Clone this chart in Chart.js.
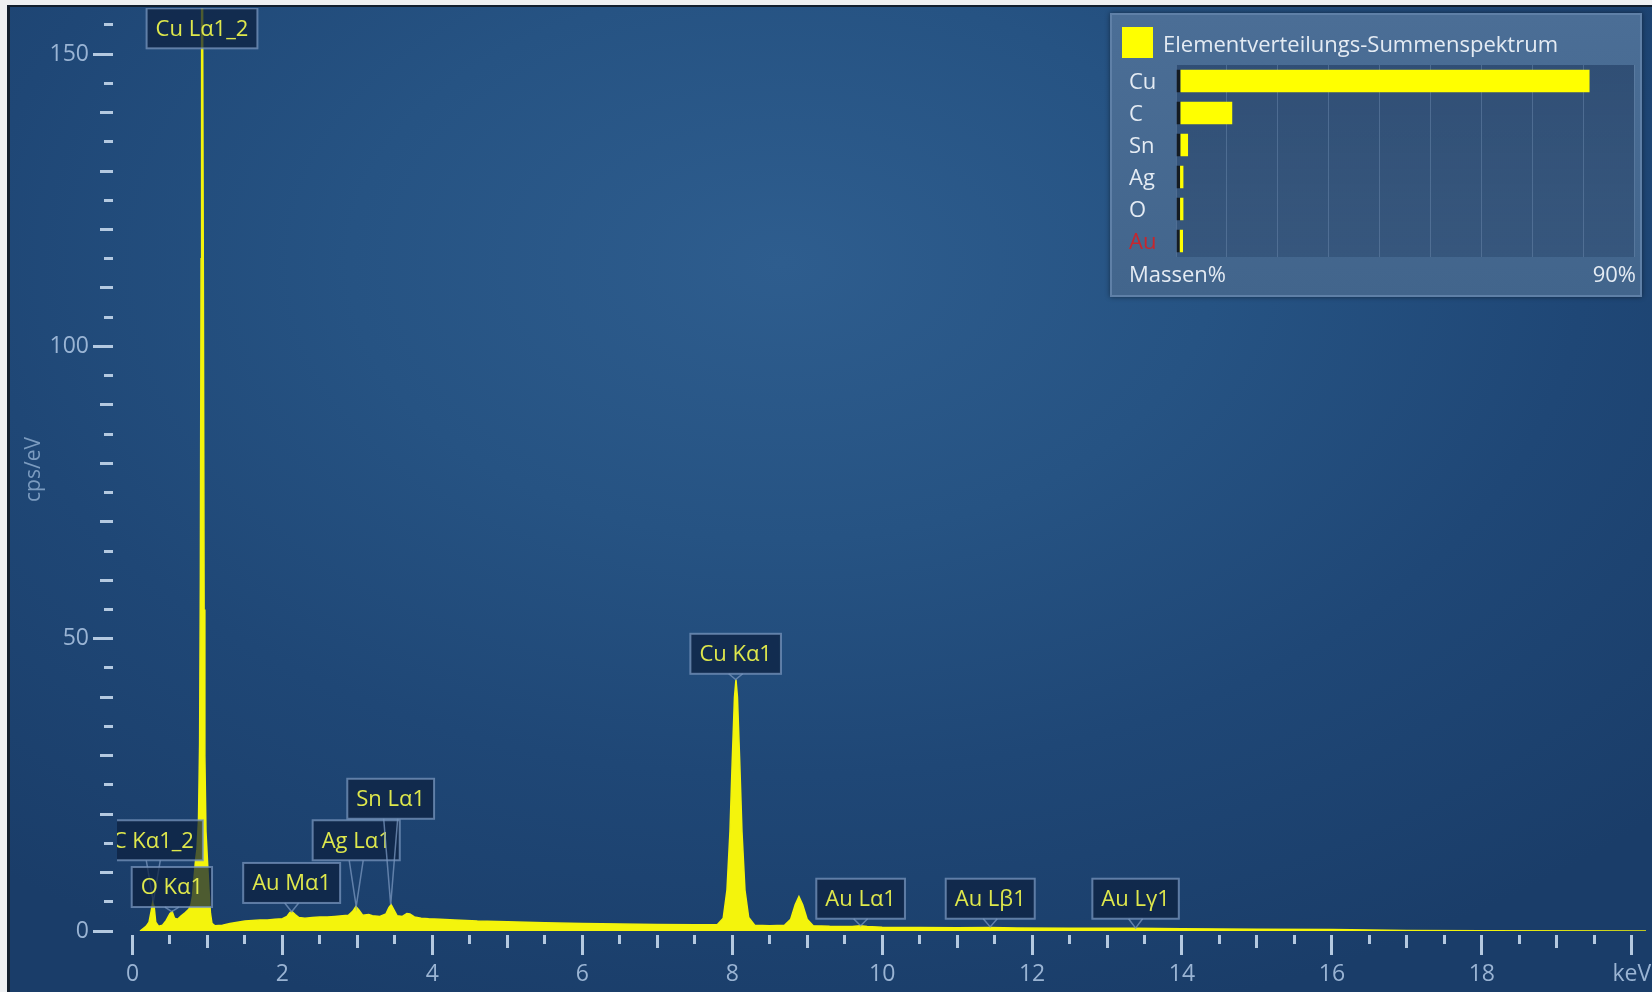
<!DOCTYPE html>
<html>
<head>
<meta charset="utf-8">
<script src="https://cdn.jsdelivr.net/npm/chart.js@4.4.1/dist/chart.umd.min.js"></script>
<style>
html,body{margin:0;padding:0;width:1652px;height:992px;overflow:hidden;background:#eef0f2;font-family:'Open Sans',sans-serif}
#frame{position:absolute;left:7px;top:5px;width:1645px;height:987px;background:#121f2e}
#panel{position:absolute;left:10px;top:7px;width:1642px;height:985px;
  background:radial-gradient(ellipse 75% 80% at 47% 26%,#2e5d8e 0%,#265383 35%,#1f4776 65%,#1a3d69 100%)}
#spec{position:absolute;left:10px;top:7px}
#legendBox{position:absolute;left:1110px;top:13px;width:532px;height:284px;box-sizing:border-box;
  border:2px solid #5f80a7;background:linear-gradient(#4b6e96,#42658c);box-shadow:0 0 5px rgba(0,0,0,.45)}
#inset{position:absolute;left:1122px;top:62px}
.sq{position:absolute;left:1122px;top:27px;width:31px;height:31px;background:#ffff00}
.txt{position:absolute;color:#e4ebf3;font-size:22px;line-height:30px;white-space:nowrap}
</style>
</head>
<body>
<div id="frame"></div>
<div id="panel"></div>
<canvas id="spec" width="1642" height="985"></canvas>
<div id="legendBox"></div>
<div class="sq"></div>
<div class="txt" style="left:1163px;top:28px">Elementverteilungs-Summenspektrum</div>
<canvas id="inset" width="518" height="200"></canvas>
<div class="txt" style="left:1129px;top:258px">Massen%</div>
<div class="txt" style="left:1536px;top:258px;width:100px;text-align:right">90%</div>
<script>
// spectrum (keV / cps per eV)
const keV = [0.10,0.13,0.18,0.22,0.25,0.27,0.29,0.31,0.35,0.40,0.45,0.50,0.53,0.56,0.60,0.65,0.70,0.75,0.78,0.80,
  0.82,0.84,0.86,0.88,0.895,0.905,0.915,0.922,0.935,0.945,0.955,0.965,0.98,1.00,1.02,1.04,1.06,1.10,1.20,1.30,
  1.40,1.50,1.60,1.70,1.80,1.90,2.00,2.06,2.10,2.13,2.17,2.22,2.30,2.40,2.50,2.60,2.70,2.80,2.88,2.94,
  2.98,3.02,3.07,3.15,3.20,3.30,3.38,3.42,3.45,3.48,3.53,3.60,3.66,3.70,3.76,3.85,3.95,4.10,4.30,4.60,
  5.00,5.50,6.00,6.50,7.00,7.50,7.80,7.88,7.93,7.97,8.00,8.03,8.05,8.07,8.10,8.13,8.17,8.22,8.30,8.50,
  8.70,8.78,8.84,8.89,8.94,9.00,9.08,9.30,9.60,9.71,9.80,10.0,10.5,11.0,11.44,11.8,12.5,13.38,14.0,15.0,
  16.0,16.5,17.0,18.0,20.2];
const cps = [0,0.3,0.8,1.5,3.5,5.0,4.0,1.5,0.8,1.0,1.8,3.0,3.3,2.2,2.0,2.6,3.1,3.7,4.5,6.0,
  9.0,12.0,14.0,19.0,32,60,115,158,158,110,55,30,17,12,7,3,1.3,0.9,1.0,1.3,
  1.5,1.7,1.8,1.9,1.9,2.0,2.1,2.5,3.2,3.3,2.8,2.3,2.2,2.3,2.4,2.4,2.5,2.6,2.7,3.4,
  4.2,3.6,2.7,2.8,2.6,2.5,2.9,4.0,4.5,3.8,2.6,2.5,3.0,2.9,2.4,2.2,2.1,2.0,1.9,1.7,
  1.6,1.4,1.3,1.2,1.1,1.05,1.05,2.2,7,17,29,40,43,40,29,17,7,2.3,1.0,0.9,
  1.0,2.0,4.5,5.9,4.5,2.0,0.9,0.8,0.75,0.9,0.75,0.65,0.6,0.55,0.6,0.5,0.45,0.45,0.4,0.3,
  0.25,0.15,0.08,0.04,0.02];

// peak labels
const peakNames  = ['C Kα1_2','O Kα1','Cu Lα1_2','Au Mα1','Ag Lα1','Sn Lα1','Cu Kα1','Au Lα1','Au Lβ1','Au Lγ1'];
const peakEnergy = [0.277,0.525,0.927,2.123,2.984,3.444,8.046,9.713,11.442,13.381];
const peakTip    = [5.0,3.3,151,3.3,4.2,4.5,43,0.9,0.7,0.5];
const boxBottom  = [12.1,4.1,151,4.8,12.1,19.2,44,2.1,2.1,2.1];

// axes
const xTickValues = [0,2,4,6,8,10,12,14,16,18,20];
const yTickValues = [0,50,100,150];

// inset: element distribution (mass %)
const elements = ['Cu','C','Sn','Ag','O','Au'];
const massPct  = [81.3,11.1,2.4,1.5,1.5,1.4];
const elementColors = ['#e4ebf3','#e4ebf3','#e4ebf3','#e4ebf3','#e4ebf3','#c8262c'];

const FONT = "'Open Sans', sans-serif";
const axisText = 'rgba(165,190,220,0.92)';
const tickCol = '#b4c9e0';

/* tick marks with three lengths */
const tickMarks = {
  id:'tickMarks',
  afterDraw(chart){
    const {ctx, chartArea, scales:{x, y}} = chart;
    ctx.save();
    ctx.fillStyle = tickCol;
    for(let i=0;i<=40;i++){
      const v = i*0.5;
      const len = i%4===0 ? 20 : (i%2===0 ? 13 : 9);
      const px = x.getPixelForValue(v);
      ctx.fillRect(Math.round(px-1.5), chartArea.bottom+4, 3, len);
    }
    for(let i=0;i<=31;i++){
      const v = i*5;
      const len = i%10===0 ? 20 : (i%2===0 ? 13 : 9);
      const py = y.getPixelForValue(v);
      ctx.fillRect(chartArea.left-4-len, Math.round(py-1.5), len, 3);
    }
    ctx.restore();
  }
};

/* callout boxes for the peaks */
const peakLabels = {
  id:'peakLabels',
  afterDatasetsDraw(chart){
    const {ctx, chartArea, scales:{x, y}} = chart;
    ctx.save();
    ctx.beginPath();
    ctx.rect(chartArea.left, chartArea.top, chartArea.right-chartArea.left, chartArea.bottom-chartArea.top);
    ctx.clip();
    ctx.font = '22px ' + FONT;
    peakNames.forEach((name,i)=>{
      const cx = x.getPixelForValue(peakEnergy[i]);
      const bottom = y.getPixelForValue(boxBottom[i]);
      const top = bottom - 40;
      const w = ctx.measureText(name).width + 18;
      ctx.fillStyle = 'rgba(12,32,62,0.72)';
      ctx.fillRect(cx-w/2, top, w, 40);
      ctx.strokeStyle = 'rgba(120,150,190,0.75)';
      ctx.lineWidth = 2;
      ctx.strokeRect(cx-w/2, top, w, 40);
      const tip = y.getPixelForValue(peakTip[i]);
      if(tip > bottom+2){
        ctx.lineWidth = 1.5;
        ctx.beginPath();
        ctx.moveTo(cx-7, bottom); ctx.lineTo(cx, tip); ctx.lineTo(cx+7, bottom);
        ctx.stroke();
      }
      ctx.fillStyle = '#dfe84c';
      ctx.textAlign = 'center';
      ctx.textBaseline = 'middle';
      ctx.fillText(name, cx, top+21);
    });
    ctx.restore();
  }
};

new Chart(document.getElementById('spec'), {
  type:'line',
  data:{ datasets:[{
    data: keV.map((e,i)=>({x:e, y:cps[i]})),
    borderColor:'#f4f40c', backgroundColor:'#f4f40c', borderWidth:1.5,
    fill:'origin', pointRadius:0, tension:0
  }]},
  options:{
    responsive:false, animation:false, devicePixelRatio:1,
    layout:{padding:{top:1,right:6,left:0,bottom:0}},
    plugins:{legend:{display:false}, tooltip:{enabled:false}},
    scales:{
      x:{
        type:'linear', min:-0.207, max:20.19,
        afterBuildTicks:s=>{ s.ticks = xTickValues.map(v=>({value:v})); },
        afterFit:s=>{ s.height = 61; s.paddingLeft = 0; s.paddingRight = 0; },
        grid:{display:false, drawTicks:false}, border:{display:false},
        ticks:{color:axisText, font:{size:23,family:FONT}, padding:30, maxRotation:0, autoSkip:false,
          callback:v=> v===20 ? 'keV' : String(v)}
      },
      y:{
        min:0, max:157.9,
        afterBuildTicks:s=>{ s.ticks = yTickValues.map(v=>({value:v})); },
        afterFit:s=>{ s.width = 107; s.paddingTop = 0; s.paddingBottom = 0; },
        grid:{display:false, drawTicks:false}, border:{display:false},
        ticks:{color:axisText, font:{size:23,family:FONT}, padding:28},
        title:{display:true, text:'cps/eV', color:'rgba(140,170,205,0.85)', font:{size:21,family:FONT}, padding:{top:11}}
      }
    }
  },
  plugins:[tickMarks, peakLabels]
});

/* inset bar chart */
const insetBg = {
  id:'insetBg',
  beforeDraw(chart){
    const {ctx, chartArea:a} = chart;
    ctx.save();
    const g = ctx.createLinearGradient(0,a.top,0,a.bottom);
    g.addColorStop(0,'rgba(28,55,92,0.55)');
    g.addColorStop(1,'rgba(40,68,105,0.45)');
    ctx.fillStyle = g;
    ctx.fillRect(a.left, a.top, a.right-a.left, a.bottom-a.top);
    ctx.restore();
  }
};

new Chart(document.getElementById('inset'), {
  type:'bar',
  data:{ labels:elements, datasets:[{
    data:massPct, backgroundColor:'#ffff00', borderColor:'#141b22',
    borderWidth:{left:4,top:0,right:0,bottom:0}, borderSkipped:false,
    barPercentage:0.72, categoryPercentage:1
  }]},
  options:{
    indexAxis:'y', responsive:false, animation:false, devicePixelRatio:1,
    layout:{padding:{left:7,top:3,right:6,bottom:5}},
    plugins:{legend:{display:false}, tooltip:{enabled:false}},
    scales:{
      x:{min:0, max:90, ticks:{display:false, stepSize:10},
         grid:{color:'rgba(105,135,172,0.5)', drawTicks:false, lineWidth:1}, border:{display:false},
         afterFit:s=>{ s.height = 0; s.paddingLeft = 0; s.paddingRight = 0; }},
      y:{ticks:{crossAlign:'far', padding:0, labelOffset:2, color:c=>elementColors[c.index], font:{size:22,family:FONT}},
         grid:{display:false, drawTicks:false}, border:{display:false},
         afterFit:s=>{ s.width = 47; s.paddingTop = 0; s.paddingBottom = 0; }}
    }
  },
  plugins:[insetBg]
});
</script>
</body>
</html>
